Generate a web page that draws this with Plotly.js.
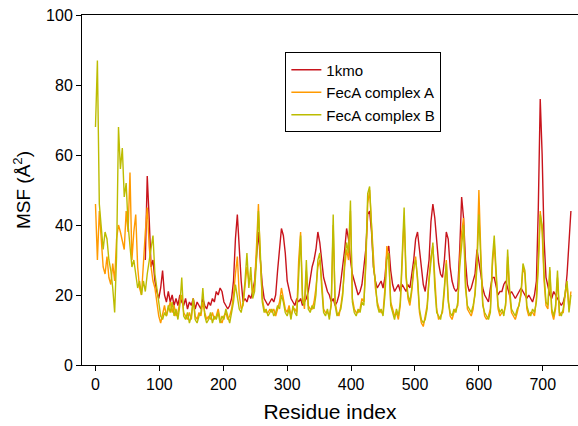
<!DOCTYPE html>
<html>
<head>
<meta charset="utf-8">
<script src="https://cdn.plot.ly/plotly-3.0.1.min.js"></script>
<style>html,body{margin:0;padding:0;background:#fff;}#chart{width:578px;height:426px;}</style>
</head>
<body>
<div id="chart"></div>
<script>
// Residue sampling (every 3rd residue)
const abStart = 0, redStart = 78, resStep = 3;

// FecA complex B (olive)
const fecaB = [
68, 87, 46, 40, 33, 38, 36, 30, 27, 22,
15, 31, 68, 56, 62, 48, 52, 40, 34, 28,
30, 26, 22, 24, 20, 24, 21, 26, 30, 33,
37, 26, 22, 19, 14, 13, 15, 14, 17, 15,
18, 14, 16, 13, 17, 25, 14, 13, 15, 12,
14, 19, 13, 12, 14, 15, 22, 14, 12, 13,
15, 12, 14, 13, 15, 12, 14, 13, 16, 14,
12, 15, 18, 23, 20, 16, 15, 18, 24, 32,
22, 28, 19, 21, 30, 44, 32, 18, 15, 16,
14, 15, 16, 14, 15, 17, 16, 20, 18, 15,
14, 16, 13, 17, 15, 14, 28, 37, 18, 17,
30, 16, 15, 17, 16, 20, 30, 32, 22, 15,
14, 16, 13, 18, 43, 17, 14, 15, 16, 20,
30, 35, 32, 47, 18, 15, 14, 16, 15, 18,
17, 30, 49, 51, 38, 28, 24, 17, 15, 16,
14, 20, 30, 32, 17, 15, 13, 16, 14, 18,
30, 45, 26, 20, 18, 22, 28, 30, 25, 16,
13, 12, 13, 16, 24, 30, 35, 22, 15, 14,
13, 16, 22, 29, 18, 15, 14, 16, 15, 18,
28, 35, 40, 22, 17, 16, 15, 17, 20, 28,
43, 30, 17, 15, 14, 13, 15, 30, 37, 26,
17, 15, 16, 14, 18, 33, 22, 16, 15, 14,
16, 17, 21, 29, 27, 17, 15, 14, 16, 15,
18, 28, 43, 40, 26, 18, 17, 28, 16, 14,
17, 27, 15, 14, 16, 21, 24, 15, 20
];

// FecA complex A (orange)
const fecaA = [
46, 30, 44, 36, 28, 26, 31, 25, 23, 29,
24, 36, 40, 38, 35, 33, 44, 38, 55, 30,
38, 43, 28, 22, 20, 30, 38, 45, 34, 28,
24, 22, 18, 14, 12, 15, 17, 14, 16, 18,
15, 17, 14, 15, 18, 20, 15, 14, 13, 15,
13, 19, 14, 13, 15, 14, 18, 15, 13, 14,
13, 15, 13, 14, 16, 13, 12, 14, 15, 13,
14, 16, 20, 26, 31, 20, 16, 17, 22, 28,
24, 25, 20, 23, 34, 46, 30, 19, 16, 15,
15, 16, 15, 16, 14, 16, 18, 22, 19, 16,
15, 17, 14, 16, 16, 15, 30, 38, 20, 16,
27, 17, 16, 16, 18, 22, 28, 30, 24, 16,
15, 15, 14, 17, 40, 18, 15, 14, 17, 21,
28, 33, 30, 44, 19, 16, 15, 15, 16, 19,
18, 28, 46, 50, 40, 29, 22, 18, 16, 15,
15, 22, 34, 30, 18, 16, 14, 15, 13, 17,
28, 42, 25, 19, 17, 21, 27, 31, 24, 15,
12, 11, 14, 17, 25, 31, 34, 24, 16, 13,
14, 15, 21, 30, 19, 14, 13, 15, 16, 17,
30, 38, 42, 24, 16, 15, 14, 16, 21, 30,
50, 32, 18, 14, 13, 14, 16, 28, 35, 25,
16, 14, 15, 15, 17, 31, 20, 15, 14, 13,
15, 18, 20, 28, 26, 16, 14, 15, 15, 14,
19, 30, 44, 38, 24, 17, 16, 27, 15, 13,
16, 25, 14, 15, 15, 20, 23, 16, 21
];

// 1kmo (red), starts at residue 78
const kmo = [
30, 54, 42, 28, 30, 24, 21, 19, 22, 27,
20, 18, 21, 18, 20, 17, 19, 17, 20, 18,
17, 19, 16, 18, 17, 19, 16, 18, 17, 16,
19, 17, 16, 18, 17, 19, 18, 21, 20, 22,
21, 18, 17, 16, 17, 19, 24, 36, 43, 33,
24, 18, 19, 18, 20, 19, 21, 24, 32, 38,
30, 23, 19, 18, 17, 18, 19, 18, 20, 27,
34, 39, 37, 32, 24, 21, 19, 18, 17, 19,
18, 19, 17, 18, 19, 21, 25, 28, 30, 33,
38, 35, 30, 25, 23, 21, 20, 18, 19, 17,
18, 20, 24, 28, 33, 39, 36, 30, 26, 24,
22, 20, 21, 23, 28, 33, 43, 44, 38, 28,
24, 22, 23, 24, 22, 25, 32, 34, 27, 23,
21, 22, 23, 21, 23, 22, 21, 23, 22, 26,
30, 36, 38, 33, 28, 23, 21, 26, 30, 41,
46, 42, 35, 29, 26, 25, 30, 38, 36, 28,
24, 22, 21, 22, 33, 48, 42, 30, 23, 21,
22, 24, 26, 33, 30, 26, 22, 20, 19, 18,
22, 25, 25, 22, 20, 21, 21, 23, 24, 22,
20, 21, 20, 19, 20, 21, 22, 21, 20, 19,
20, 19, 18, 20, 24, 45, 76, 60, 36, 25,
22, 20, 19, 21, 20, 19, 18, 17, 18, 20,
26, 36, 44
];

const seriesNames = ['1kmo', 'FecA complex A', 'FecA complex B'];
const seriesColors = ['#c8141c', '#ff9a00', '#bcbc00'];
const yTicks = [0, 20, 40, 60, 80, 100];
const xTicks = [0, 100, 200, 300, 400, 500, 600, 700];

function residues(start, n) { const r = []; for (let i = 0; i < n; i++) r.push(start + i * resStep); return r; }

const font = 'Liberation Sans, Arial, Helvetica, sans-serif';
const traces = [
  {x: residues(redStart, kmo.length), y: kmo, name: seriesNames[0]},
  {x: residues(abStart, fecaA.length), y: fecaA, name: seriesNames[1]},
  {x: residues(abStart, fecaB.length), y: fecaB, name: seriesNames[2]}
].map((t, i) => Object.assign(t, {type: 'scatter', mode: 'lines', line: {color: seriesColors[i], width: 1.4}}));

const layout = {
  width: 578, height: 426,
  margin: {l: 82, r: 0, t: 15, b: 61},
  paper_bgcolor: '#fff', plot_bgcolor: '#fff',
  font: {family: font, color: '#000', size: 16},
  showlegend: true,
  legend: {x: 0.41, y: 0.893, xanchor: 'left', yanchor: 'top', bgcolor: '#fff',
           bordercolor: '#000', borderwidth: 1, font: {size: 15, family: font}, tracegroupgap: 0,
           entrywidth: 122, entrywidthmode: 'pixels'},
  xaxis: {range: [-21.1, 755.1], tickvals: xTicks, ticks: 'outside', ticklen: 5, tickcolor: '#000',
          showline: true, linecolor: '#000', linewidth: 1, mirror: true, showgrid: false, zeroline: false,
          tickfont: {size: 16}, title: {text: 'Residue index', font: {size: 21}, standoff: 12}},
  yaxis: {range: [0, 100], tickvals: yTicks, ticks: 'outside', ticklen: 5, tickcolor: '#000',
          showline: true, linecolor: '#000', linewidth: 1, showgrid: false, zeroline: false,
          tickfont: {size: 16}, title: {text: 'MSF (Å<sup>2</sup>)', font: {size: 19}, standoff: 10}}
};

Plotly.newPlot('chart', traces, layout, {displayModeBar: false, staticPlot: true});
</script>
</body>
</html>
